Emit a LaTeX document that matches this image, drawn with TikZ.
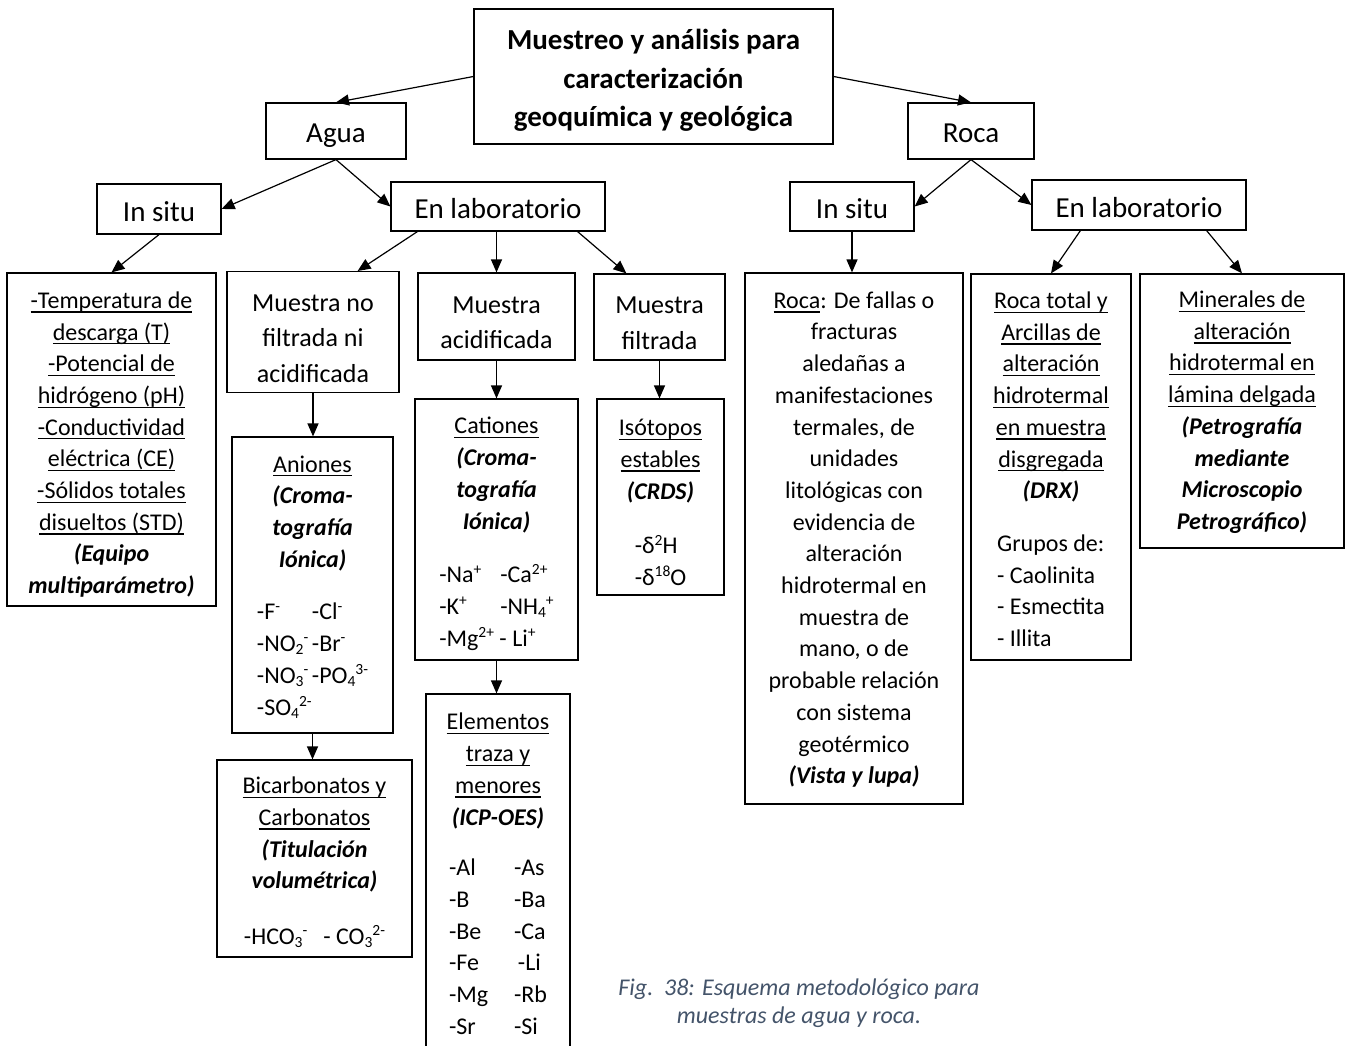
\documentclass[tikz,border=0pt]{standalone}
\usepackage{fontspec}
\setmainfont{Carlito}
\usetikzlibrary{arrows.meta}
\definecolor{capc}{HTML}{44546A}
\newcommand\ulx[1]{\setbox0\hbox{#1}\rlap{\rule[-4.3pt]{\wd0}{1.2pt}}\box0}
\newcommand\bix[1]{\textbf{\textit{#1}}}
\newcommand\sps[1]{\raisebox{0.36em}{\fontsize{15.5}{15.5}\selectfont #1}}
\newcommand\sbs[1]{\raisebox{-0.14em}{\fontsize{15.5}{15.5}\selectfont #1}}
\newcommand\two[3]{\makebox[#1pt][l]{#2}#3}
\newcommand\lst[1]{\begin{tabular}[t]{@{}l@{}}#1\end{tabular}}
\newcommand\fl[1][24.6]{\rule{0pt}{#1pt}}
\newcommand\fm{\rule{0pt}{39.4pt}}
\newcommand\ft{\rule{0pt}{35.2pt}}
\begin{document}
\begin{tikzpicture}[x=1pt,y=-1pt,
  bx/.style={draw,line width=1.2pt,inner sep=0pt,align=center},
  dp/.style={execute at end node={\rule[-0.4em]{0pt}{0.4em}}},
  leaf/.style={bx,dp,font=\fontsize{24}{31.7}\selectfont},
  mid/.style={bx,dp,font=\fontsize{26}{35.5}\selectfont},
  lvl/.style={bx,execute at end node=\strut,
    execute at begin node={\rule{0pt}{\dimexpr0.7\baselineskip+10pt\relax}},
    font=\fontsize{29}{35}\selectfont},
  ttl/.style={bx,dp,font=\bfseries\fontsize{29}{38.5}\selectfont},
  arr/.style={line width=1.2pt,-{Triangle[length=13pt,width=11pt]}},
  sz/.style n args={2}{minimum width=#1pt,minimum height=#2pt}]
\useasboundingbox (0,0) rectangle (1346,1046);
\clip (0,0) rectangle (1346,1046);
\fill[white] (0,0) rectangle (1346,1046);

% top level
\node[ttl,sz={359}{135}] (main) at (653.5,76.5)
  {\ft Muestreo y análisis para\\ caracterización\\ geoquímica y geológica};
\node[lvl,sz={140}{56}] (agua) at (336,131) {Agua};
\node[lvl,sz={126}{56}] (roca) at (971,131) {Roca};

% second level
\node[lvl,sz={124}{50}] (insituW) at (159,209) {In situ};
\node[lvl,sz={214}{49}] (enlabW) at (498,206.5) {En laboratorio};
\node[lvl,sz={124}{49}] (insituR) at (852,206.5) {In situ};
\node[lvl,sz={214}{50}] (enlabR) at (1139,205) {En laboratorio};

% water, in situ
\node[leaf,sz={209}{333}] (leaf1) at (111.5,439.5)
  {\fl[32.6]\ulx{-Temperatura de}\\ \ulx{descarga (T)}\\ \ulx{-Potencial de}\\
   \ulx{hidrógeno (pH)}\\ \ulx{-Conductividad}\\ \ulx{eléctrica (CE)}\\
   \ulx{-Sólidos totales}\\ \ulx{disueltos (STD)}\\ \bix{(Equipo}\\
   \bix{multiparámetro)}};

% water, laboratory
\node[mid,sz={172}{118}] (nofilt) at (313,332)
  {\fm Muestra no\\ filtrada ni\\ acidificada};
\node[mid,sz={157}{87}] (acid) at (496.5,316.5) {\fm Muestra\\ acidificada};
\node[mid,sz={131}{86}] (filt) at (659.5,317) {\fm Muestra\\ filtrada};

\node[leaf,sz={161}{296}] (aniones) at (312.5,585)
  {\fl[26.6]\ulx{Aniones}\\ \bix{(Croma-}\\ \bix{tografía}\\ \bix{Iónica)}\\[21pt]
   \lst{\two{55}{-F\sps{-}}{-Cl\sps{-}}\\
        \two{55}{-NO\sbs{2}\sps{-}}{-Br\sps{-}}\\
        \two{55}{-NO\sbs{3}\sps{-}}{-PO\sbs{4}\sps{3-}}\\
        -SO\sbs{4}\sps{2-}}};
\node[leaf,sz={195}{197}] (bicarb) at (314.5,858.5)
  {\fl[30.6]\ulx{Bicarbonatos y}\\ \ulx{Carbonatos}\\ \bix{(Titulación}\\
   \bix{volumétrica)}\\[24pt]
   -HCO\sbs{3}\sps{-}\hspace{16pt}- CO\sbs{3}\sps{2-}};
\node[leaf,sz={163}{261}] (cationes) at (496.5,529.5)
  {\fl[30.6]\ulx{Cationes}\\ \bix{(Croma-}\\ \bix{tografía}\\ \bix{Iónica)}\\[22pt]
   \lst{\two{61}{-Na\sps{+}}{-Ca\sps{2+}}\\
        \two{61}{-K\sps{+}}{-NH\sbs{4}\sps{+}}\\
        -Mg\sps{2+} - Li\sps{+}}};
\node[leaf,sz={144}{361}] (elementos) at (498,874.5)
  {\fl\ulx{Elementos}\\ \ulx{traza y}\\ \ulx{menores}\\ \bix{(ICP-OES)}\\[19pt]
   \lst{\two{65}{-Al}{-As}\\ \two{65}{-B}{-Ba}\\ \two{65}{-Be}{-Ca}\\
        \two{65}{-Fe}{\,-Li}\\ \two{65}{-Mg}{-Rb}\\ \two{65}{-Sr}{-Si}}};
\node[leaf,sz={127}{190}] (isot) at (660.5,497)
  {\fl[36.6]\ulx{Isótopos}\\ \ulx{estables}\\ \bix{(CRDS)}\\[23pt]
   \lst{-δ\sps{2}H\\ -δ\sps{18}O}};

% rock
\node[leaf,sz={218}{531}] (leafR) at (854,538.5)
  {\fl\ulx{Roca}: De fallas o\\ fracturas\\ aledañas a\\ manifestaciones\\
   termales, de\\ unidades\\ litológicas con\\ evidencia de\\ alteración\\
   hidrotermal en\\ muestra de\\ mano, o de\\ probable relación\\
   con sistema\\ geotérmico\\ \bix{(Vista y lupa)}};
\node[leaf,sz={160}{386}] (rocatotal) at (1051,467)
  {\fl[30.6]\ulx{Roca total y}\\ \ulx{Arcillas de}\\ \ulx{alteración}\\
   \ulx{hidrotermal}\\ \ulx{en muestra}\\ \ulx{disgregada}\\ \bix{(DRX)}\\[21pt]
   \lst{Grupos de:\\ - Caolinita\\ - Esmectita\\ - Illita}};
\node[leaf,sz={204}{274}] (minerales) at (1242,411)
  {\fl\ulx{Minerales de}\\ \ulx{alteración}\\ \ulx{hidrotermal en}\\
   \ulx{lámina delgada}\\ \bix{(Petrografía}\\ \bix{mediante}\\
   \bix{Microscopio}\\ \bix{Petrográfico)}};

% caption
\node[align=center,inner sep=0pt,text=capc,
      font=\itshape\fontsize{24}{28}\selectfont] (caption) at (799,1003)
  {Fig.\ \ 38: Esquema metodológico para\\ muestras de agua y roca.};

% connectors
\draw[arr] (main.west) -- (agua.north);
\draw[arr] (main.east) -- (roca.north);
\draw[arr] (agua.south) -- (insituW.east);
\draw[arr] (agua.south) -- (enlabW.west);
\draw[arr] (insituW.south) -- (leaf1.north);
\draw[arr] ([xshift=27pt]enlabW.south west) -- ([xshift=-42pt]nofilt.north east);
\draw[arr] (acid.north |- enlabW.south) -- (acid.north);
\draw[arr] ([xshift=-28pt]enlabW.south east) -- ([xshift=33pt]filt.north west);
\draw[arr] (nofilt.south) -- (nofilt.south |- aniones.north);
\draw[arr] (aniones.south) -- (aniones.south |- bicarb.north);
\draw[arr] (acid.south) -- (acid.south |- cationes.north);
\draw[arr] (cationes.south) -- (cationes.south |- elementos.north);
\draw[arr] (filt.south) -- (filt.south |- isot.north);
\draw[arr] (roca.south) -- (insituR.east);
\draw[arr] (roca.south) -- (enlabR.west);
\draw[arr] (insituR.south) -- (insituR.south |- leafR.north);
\draw[arr] ([xshift=49pt]enlabR.south west) -- (rocatotal.north);
\draw[arr] ([xshift=-40pt]enlabR.south east) -- (minerales.north);
\end{tikzpicture}
\end{document}
